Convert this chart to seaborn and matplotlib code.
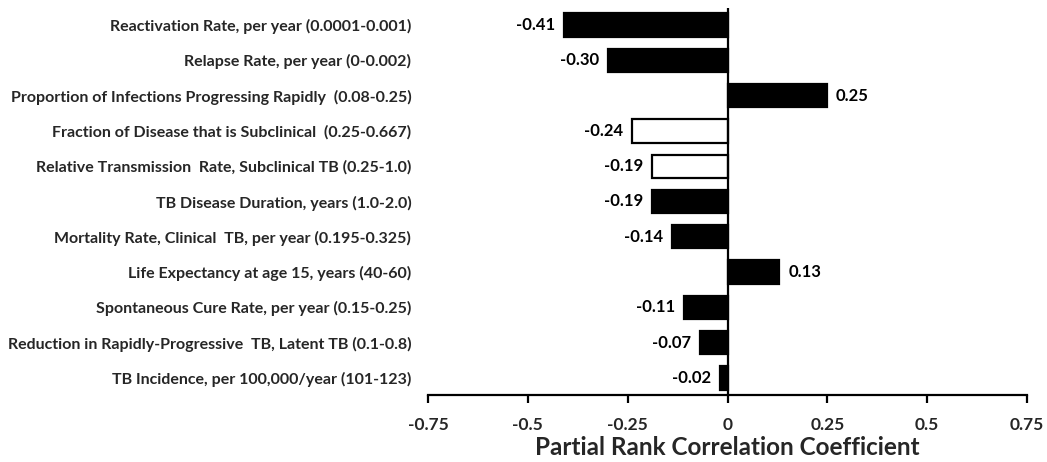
import matplotlib
matplotlib.use("Agg")
import matplotlib.pyplot as plt
import seaborn as sns
import pandas as pd

parameters = [
    "Reactivation Rate, per year (0.0001-0.001)",
    "Relapse Rate, per year (0-0.002)",
    "Proportion of Infections Progressing Rapidly  (0.08-0.25)",
    "Fraction of Disease that is Subclinical  (0.25-0.667)",
    "Relative Transmission  Rate, Subclinical TB (0.25-1.0)",
    "TB Disease Duration, years (1.0-2.0)",
    "Mortality Rate, Clinical  TB, per year (0.195-0.325)",
    "Life Expectancy at age 15, years (40-60)",
    "Spontaneous Cure Rate, per year (0.15-0.25)",
    "Reduction in Rapidly-Progressive  TB, Latent TB (0.1-0.8)",
    "TB Incidence, per 100,000/year (101-123)",
]
prcc = [-0.41, -0.30, 0.25, -0.24, -0.19, -0.19, -0.14, 0.13, -0.11, -0.07, -0.02]
group = ["main", "main", "main", "subclinical", "subclinical",
         "main", "main", "main", "main", "main", "main"]
xticks = [-0.75, -0.5, -0.25, 0, 0.25, 0.5, 0.75]
xtick_labels = ["-0.75", "-0.5", "-0.25", "0", "0.25", "0.5", "0.75"]

df = pd.DataFrame({"parameter": parameters, "prcc": prcc, "group": group})

sns.set_theme(style="white")
plt.rcParams["font.family"] = ["Lato", "DejaVu Sans"]
plt.rcParams["font.weight"] = "bold"

fig = plt.figure(figsize=(10.47, 4.62), dpi=100)
ax = fig.add_axes([428 / 1047, 1 - 395 / 462, 599 / 1047, 387 / 462])

sns.barplot(data=df, x="prcc", y="parameter", hue="group",
            palette={"main": "black", "subclinical": "white"},
            orient="h", dodge=False, width=0.66, edgecolor="black",
            linewidth=1.6, legend=False, ax=ax)

for i, v in enumerate(prcc):
    if v < 0:
        ax.text(v - 0.022, i, f"{v:.2f}", ha="right", va="center",
                fontsize=12, fontweight="bold", color="black")
    else:
        ax.text(v + 0.022, i, f"{v:.2f}", ha="left", va="center",
                fontsize=12, fontweight="bold", color="black")

ax.set_xlim(-0.75, 0.75)
ax.set_ylim(10.48, -0.48)
ax.axvline(0, color="black", linewidth=1.6, zorder=3)

ax.set_xticks(xticks)
ax.set_xticklabels(xtick_labels, fontsize=12.5, fontweight="bold")
ax.tick_params(axis="x", direction="out", length=6, width=1.6,
               color="black", pad=10, bottom=True)
ax.tick_params(axis="y", length=0, pad=12, labelsize=11.5)
for lbl in ax.get_yticklabels():
    lbl.set_fontweight("bold")

ax.set_ylabel("")
ax.set_xlabel("Partial Rank Correlation Coefficient", fontsize=17.5,
              fontweight="bold", labelpad=2)

for side in ["top", "right", "left"]:
    ax.spines[side].set_visible(False)
ax.spines["bottom"].set_linewidth(1.6)
ax.spines["bottom"].set_color("black")

fig.savefig("out.png", dpi=100, facecolor="white")
